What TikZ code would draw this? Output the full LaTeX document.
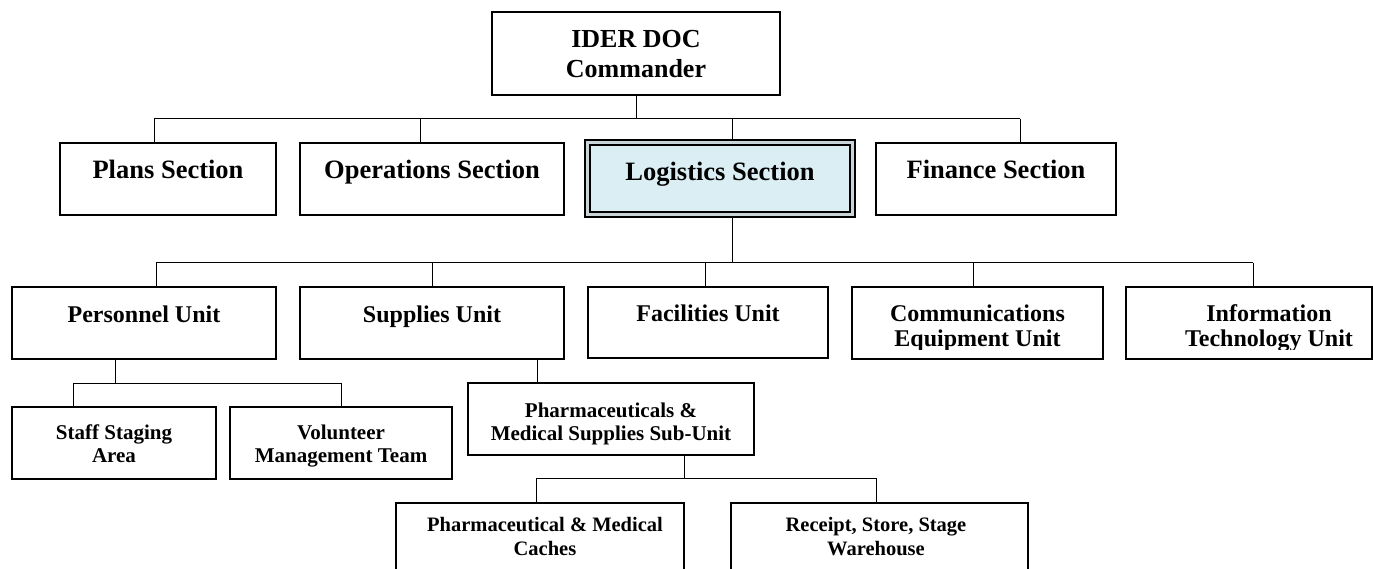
\documentclass[tikz,border=0pt]{standalone}
\usepackage{fontspec}
\setmainfont{Liberation Serif}
\definecolor{logfill}{HTML}{DAEEF3}
\definecolor{logband}{HTML}{C8D4D8}
\tikzset{
  box/.style={draw, line width=1.5pt, inner sep=0pt, outer sep=0pt, fill=white},
  conn/.style={line width=1pt},
  lbl/.style={inner sep=0pt, outer sep=0pt, anchor=base, align=center, font=\bfseries},
  fsec/.style={font=\bfseries\fontsize{26.5}{30}\selectfont},
  ftop/.style={font=\bfseries\fontsize{26}{30}\selectfont},
  funit/.style={font=\bfseries\fontsize{24}{25}\selectfont},
  fsub/.style={font=\bfseries\fontsize{21}{23}\selectfont},
  fcache/.style={font=\bfseries\fontsize{20.5}{24}\selectfont},
}
\begin{document}
\begin{tikzpicture}[x=1pt,y=-1pt]
\clip (0,0) rectangle (1373,569);
\fill[white] (0,0) rectangle (1373,569);
% ---------- boxes ----------
\node[box, minimum width=288pt, minimum height=83pt] (cmd) at (636,53.5) {};
\node[box, minimum width=216pt, minimum height=72pt] (plans) at (168,179) {};
\node[box, minimum width=264pt, minimum height=72pt] (ops) at (432,179) {};
\node[box, line width=2pt, fill=logband, minimum width=270pt, minimum height=77pt] (log) at (720,178.5) {};
\node[box, fill=logfill, minimum width=260pt, minimum height=67pt] (login) at (720,178.5) {};
\node[box, minimum width=240pt, minimum height=72pt] (fin) at (996,179) {};
\node[box, minimum width=264pt, minimum height=72pt] (pers) at (144,323) {};
\node[box, minimum width=264pt, minimum height=72pt] (sup) at (432,323) {};
\node[box, minimum width=240pt, minimum height=71pt] (fac) at (708,322.5) {};
\node[box, minimum width=251pt, minimum height=72pt] (comm) at (977.5,323) {};
\node[box, minimum width=246pt, minimum height=72pt] (info) at (1249,323) {};
\node[box, minimum width=204pt, minimum height=72pt] (staff) at (114,443) {};
\node[box, minimum width=222pt, minimum height=72pt] (vol) at (341,443) {};
\node[box, minimum width=286pt, minimum height=72pt] (pharm) at (611,419) {};
\node[box, minimum width=288pt, minimum height=80pt] (cache) at (540,543) {};
\node[box, minimum width=297pt, minimum height=80pt] (rcpt) at (879.5,543) {};
% ---------- connector points ----------
\coordinate (dPlans) at (154,119);
\coordinate (dOps) at (420,119);
\coordinate (dLog) at (732,119);
\coordinate (dFin) at (1020,119);
\coordinate (uPers) at (156,263);
\coordinate (uSup) at (432,263);
\coordinate (uLog) at (732,263);
\coordinate (uFac) at (705,263);
\coordinate (uComm) at (973,263);
\coordinate (uInfo) at (1253,263);
\coordinate (pDown) at (115,383);
\coordinate (pStaff) at (73,383);
\coordinate (pVol) at (341,383);
\coordinate (sDown) at (537,383);
\coordinate (mDown) at (684,478);
\coordinate (mCache) at (536,478);
\coordinate (mRcpt) at (876,478);
% ---------- connectors ----------
\draw[conn] (cmd.south) -- (cmd.south |- dPlans);
\draw[conn] (dPlans) -- (dFin);
\draw[conn] (dPlans) -- (dPlans |- plans.north);
\draw[conn] (dOps) -- (dOps |- ops.north);
\draw[conn] (dLog) -- (dLog |- log.north);
\draw[conn] (dFin) -- (dFin |- fin.north);
\draw[conn] (uLog |- log.south) -- (uLog);
\draw[conn] (uPers) -- (uInfo);
\draw[conn] (uPers) -- (uPers |- pers.north);
\draw[conn] (uSup) -- (uSup |- sup.north);
\draw[conn] (uFac) -- (uFac |- fac.north);
\draw[conn] (uComm) -- (uComm |- comm.north);
\draw[conn] (uInfo) -- (uInfo |- info.north);
\draw[conn] (pDown |- pers.south) -- (pDown);
\draw[conn] (pStaff) -- (pVol);
\draw[conn] (pStaff) -- (pStaff |- staff.north);
\draw[conn] (pVol) -- (pVol |- vol.north);
\draw[conn] (sDown |- sup.south) -- (sDown |- pharm.north);
\draw[conn] (mDown |- pharm.south) -- (mDown);
\draw[conn] (mCache) -- (mRcpt);
\draw[conn] (mCache) -- (mCache |- cache.north);
\draw[conn] (mRcpt) -- (mRcpt |- rcpt.north);
% ---------- labels (base anchor = baseline of last line) ----------
\node[lbl, ftop] (tcmd) at (636,78) {IDER DOC\\Commander};
\node[lbl, fsec] (tplans) at (168,179) {Plans Section};
\node[lbl, fsec] (tops) at (432,179) {Operations Section};
\node[lbl, fsec] (tlog) at (720,181) {Logistics Section};
\node[lbl, fsec] (tfin) at (996,179) {Finance Section};
\node[lbl, funit] (tpers) at (144,322) {Personnel Unit};
\node[lbl, funit] (tsup) at (432,322) {Supplies Unit};
\node[lbl, funit] (tfac) at (708,321) {Facilities Unit};
\begin{scope}
\clip (852,287) rectangle (1373,349);
\node[lbl, funit] (tcomm) at (977.5,346) {Communications\\Equipment Unit};
\node[lbl, funit] (tinfo) at (1269,346) {Information\\Technology Unit};
\end{scope}
\node[lbl, fsub] (tstaff) at (114,462) {Staff Staging\\Area};
\node[lbl, fsub] (tvol) at (341,462) {Volunteer\\Management Team};
\node[lbl, fsub] (tpharm) at (611,440) {Pharmaceuticals \&\\Medical Supplies Sub-Unit};
\node[lbl, fcache] (tcache) at (545,555) {Pharmaceutical \& Medical\\Caches};
\node[lbl, fcache] (trcpt) at (876,555) {Receipt, Store, Stage\\Warehouse};
\end{tikzpicture}
\end{document}
